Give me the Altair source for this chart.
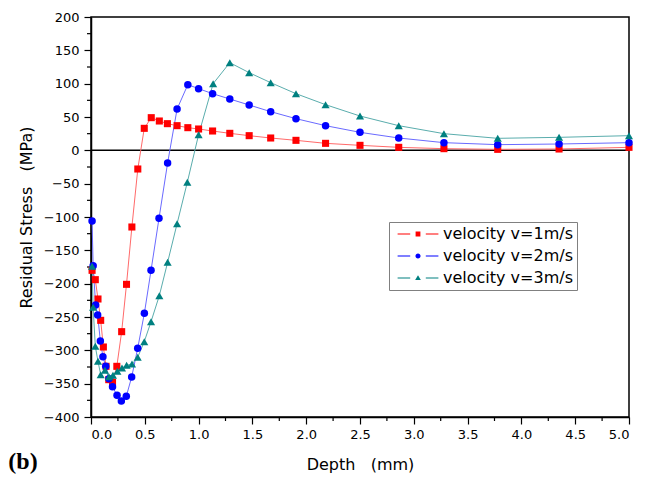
import altair as alt
import pandas as pd

# ---------------- data ----------------
series_names = ["velocity v=1m/s", "velocity v=2m/s", "velocity v=3m/s"]
marker_colors = ["#ff0000", "#0000ff", "#008080"]
line_colors = ["#ff6a6a", "#6a6aff", "#5aadad"]
marker_shapes = ["square", "circle", "triangle-up"]
marker_sizes = [50, 56, 66]

depth_v1 = [0.01, 0.04, 0.065, 0.09, 0.115, 0.14, 0.165, 0.20, 0.24, 0.285, 0.33, 0.38,
            0.435, 0.495, 0.56, 0.635, 0.71, 0.80, 0.90, 1.0, 1.13, 1.29, 1.47, 1.67,
            1.905, 2.18, 2.5, 2.86, 3.28, 3.78, 4.35, 5.0]
stress_v1 = [-180, -194, -223, -255, -295, -324, -344, -348, -324, -272, -201, -115,
             -28, 33, 49, 44, 40, 37, 34, 32, 29, 25.5, 22, 18.5,
             15, 10.5, 7.5, 4.5, 2.5, 1.5, 2, 4.5]

depth_v2 = [0.01, 0.02, 0.043, 0.062, 0.087, 0.111, 0.137, 0.167, 0.20, 0.242, 0.282,
            0.328, 0.378, 0.434, 0.496, 0.558, 0.632, 0.712, 0.80, 0.90, 1.0, 1.13,
            1.29, 1.47, 1.67, 1.905, 2.18, 2.5, 2.86, 3.28, 3.78, 4.35, 5.0]
stress_v2 = [-106, -173, -232, -247, -286, -309.5, -324, -342.5, -354.5, -367.5, -376,
             -369, -340, -297, -244.5, -180, -102, -19, 62, 98.5, 92.5, 85,
             77, 68, 58, 47.5, 37, 27, 18.5, 11.5, 8.5, 9.5, 11.5]

depth_v3 = [0.01, 0.02, 0.04, 0.065, 0.09, 0.13, 0.167, 0.204, 0.245, 0.288, 0.331,
            0.381, 0.434, 0.495, 0.558, 0.635, 0.712, 0.80, 0.895, 1.0, 1.135, 1.29,
            1.47, 1.67, 1.905, 2.18, 2.5, 2.86, 3.28, 3.78, 4.35, 5.0]
stress_v3 = [-174, -235.5, -294, -316.5, -336.5, -330, -339.5, -337.5, -331.5, -326.5,
             -322.5, -320.5, -310.5, -287, -257, -218, -168, -110, -48, 23.5, 100, 131.5,
             116.5, 101.5, 85, 68.5, 51.5, 37, 25, 18, 19.5, 22]

x_ticks = [0.0, 0.5, 1.0, 1.5, 2.0, 2.5, 3.0, 3.5, 4.0, 4.5, 5.0]
x_minor = [0.25, 0.75, 1.25, 1.75, 2.25, 2.75, 3.25, 3.75, 4.25, 4.75]
y_ticks = [-400, -350, -300, -250, -200, -150, -100, -50, 0, 50, 100, 150, 200]
y_minor = [-375, -325, -275, -225, -175, -125, -75, -25, 25, 75, 125, 175]

NB = "\u00a0"
x_title = "Depth" + NB * 3 + "(mm)"
y_title = "Residual Stress" + NB * 3 + "(MPa)"
panel_label = "(b)"

# ---------------- build table ----------------
rows = []
for name, lc, mk, ms, ds, ss in zip(series_names, line_colors, marker_shapes, marker_sizes,
                                    [depth_v1, depth_v2, depth_v3],
                                    [stress_v1, stress_v2, stress_v3]):
    for d, s in zip(ds, ss):
        rows.append({"series": name, "lc": lc, "mk": mk, "ms": ms, "depth": d, "stress": s})
df = pd.DataFrame(rows)

FONT = "DejaVu Sans"

x_scale = alt.Scale(domain=[0, 5], nice=False, zero=False)
y_scale = alt.Scale(domain=[-400, 200], nice=False, zero=False)

# legend symbols (filled paths): line - marker - line
seg = "M-6.8,-0.17H-2.6V0.17H-6.8ZM2.6,-0.17H6.8V0.17H2.6Z"
legend_paths = [
    seg + "M-0.8,-0.8H0.8V0.8H-0.8Z",
    seg + "M-0.85,0A0.85,0.85,0,1,0,0.85,0A0.85,0.85,0,1,0,-0.85,0Z",
    seg + "M0,-0.95L0.95,0.7L-0.95,0.7Z",
]


def pick(values):
    expr = "'" + values[-1] + "'"
    for n, v in reversed(list(zip(series_names[:-1], values[:-1]))):
        expr = f"datum.value === '{n}' ? '{v}' : ({expr})"
    return expr


legend = alt.Legend(
    title=None,
    orient="none",
    legendX=298,
    legendY=205,
    direction="vertical",
    labelFont=FONT,
    labelFontSize=16,
    labelColor="black",
    symbolSize=36,
    symbolType=alt.ExprRef(pick(legend_paths)),
    symbolStrokeWidth=0,
    symbolOpacity=1,
    symbolOffset=17,
    labelOffset=17,
    rowPadding=6,
    padding=4,
    strokeColor="#808080",
    fillColor="white",
    labelExpr="datum.label + '" + NB * 2 + "'",
)

base = alt.Chart(df)

zero_line = alt.Chart(pd.DataFrame({"z": [0]})).mark_rule(
    color="black", strokeWidth=1.5
).encode(y=alt.Y("z:Q", scale=y_scale, axis=None))

y_minor_ticks = alt.Chart(pd.DataFrame({"v": y_minor})).mark_rule(
    color="black", strokeWidth=1.2
).encode(y=alt.Y("v:Q", scale=y_scale, axis=None), x=alt.value(-4), x2=alt.value(0))

x_minor_ticks = alt.Chart(pd.DataFrame({"v": x_minor})).mark_rule(
    color="black", strokeWidth=1.2
).encode(x=alt.X("v:Q", scale=x_scale, axis=None), y=alt.value(400), y2=alt.value(404))

lines = base.mark_line(strokeWidth=1).encode(
    x=alt.X("depth:Q", scale=x_scale,
            axis=alt.Axis(values=x_ticks, format=".1f", title=x_title, tickSize=7,
                          labelPadding=4, titlePadding=15, grid=False,
                          labelOverlap=False)),
    y=alt.Y("stress:Q", scale=y_scale,
            axis=alt.Axis(values=y_ticks, format="d", title=y_title, tickSize=7,
                          labelPadding=5, titlePadding=9, grid=False,
                          labelOverlap=False)),
    stroke=alt.Stroke("lc:N", scale=None),
    detail="series:N",
)

points = base.mark_point(filled=True, opacity=1).encode(
    x=alt.X("depth:Q", scale=x_scale, axis=None),
    y=alt.Y("stress:Q", scale=y_scale, axis=None),
    color=alt.Color("series:N", scale=alt.Scale(domain=series_names, range=marker_colors),
                    legend=legend),
    shape=alt.Shape("mk:N", scale=None),
    size=alt.Size("ms:Q", scale=None),
)

label = alt.Chart(pd.DataFrame({"t": [panel_label]})).mark_text(
    font="Liberation Serif", fontSize=24, fontWeight="bold", color="black",
    align="center", baseline="middle"
).encode(text="t:N", x=alt.value(-68), y=alt.value(445))

chart = alt.layer(zero_line, y_minor_ticks, x_minor_ticks, lines, points, label).resolve_axis(
    x="independent", y="independent"
).properties(
    width=538, height=400,
    autosize=alt.AutoSizeParams(type="none"),
    padding={"left": 83, "top": 9, "right": 12, "bottom": 57},
).configure_view(
    stroke="black", strokeWidth=1.5
).configure_axis(
    domainColor="black", domainWidth=1.5, tickColor="black", tickWidth=1.2,
    labelFont=FONT, labelFontSize=13, labelColor="black",
    titleFont=FONT, titleFontSize=16, titleFontWeight="normal", titleColor="black",
)

chart.save("out.html", embed_options={"renderer": "svg", "actions": False})
